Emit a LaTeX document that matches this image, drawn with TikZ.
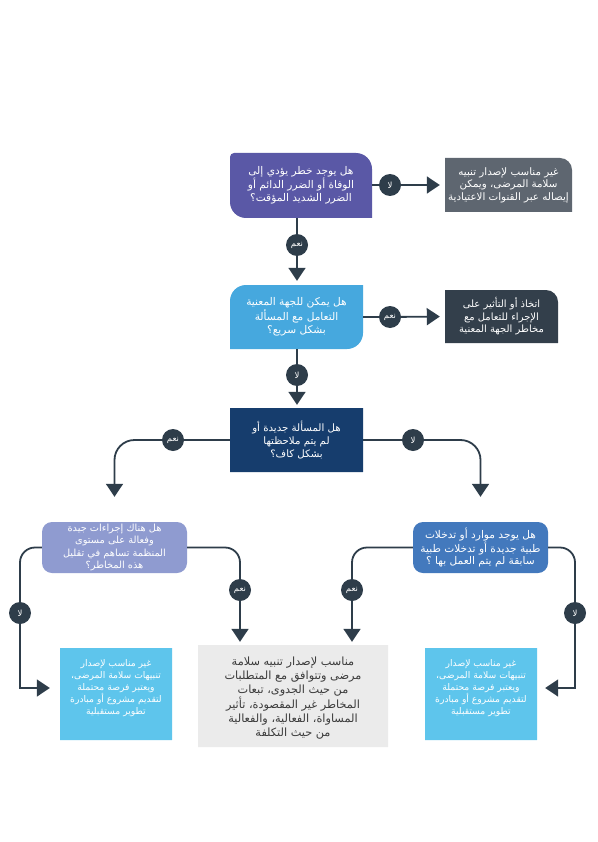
\documentclass[tikz,border=0pt]{standalone}
\usepackage{fontspec}
\usetikzlibrary{arrows.meta,calc}
\newfontfamily\arabicfont[Script=Arabic]{DejaVu Sans}
\TeXXeTstate=1
\newcommand\AR[1]{\beginR #1\endR}
\definecolor{cA}{HTML}{5A58A6}
\definecolor{cB}{HTML}{5E6670}
\definecolor{cC}{HTML}{46A8DE}
\definecolor{cD}{HTML}{333F4B}
\definecolor{cE}{HTML}{163D6D}
\definecolor{cF}{HTML}{8F9BD0}
\definecolor{cG}{HTML}{4379BD}
\definecolor{cH}{HTML}{5EC5EC}
\definecolor{cI}{HTML}{EBEBEB}
\definecolor{cIt}{HTML}{3B3B3B}
\definecolor{cK}{HTML}{2E3D4A}
% colour, x1, y1, x2, y2, rTL, rTR, rBR, rBL
\newcommand\shapebox[9]{%
\fill[#1] ({#2+#6},#3) -- ({#4-#7},#3) arc[start angle=-90,end angle=0,radius=#7]
 -- (#4,{#5-#8}) arc[start angle=0,end angle=90,radius=#8]
 -- ({#2+#9},#5) arc[start angle=90,end angle=180,radius=#9]
 -- (#2,{#3+#6}) arc[start angle=180,end angle=270,radius=#6] -- cycle;}
\tikzset{
 txt/.style={align=center, inner sep=0pt, text=white, font=\arabicfont\fontsize{10.6}{13}\selectfont},
 lab/.style={circle, fill=cK, text=white, minimum size=22pt, inner sep=0pt, font=\arabicfont\fontsize{8.5}{8.5}\selectfont},
 conn/.style={draw=cK, line width=1.8pt},
 arr/.style={conn, -{Triangle[width=17pt,length=13pt]}},
}
\begin{document}
\begin{tikzpicture}[x=1pt,y=-1pt]
\useasboundingbox (0,0) rectangle (597,842);
\fill[white] (0,0) rectangle (597,842);
% box fills
\shapebox{cA}{230}{153}{372}{218}{4}{16}{0.1}{16}
\shapebox{cB}{445}{158}{572}{212}{0.1}{12}{0.1}{0.1}
\shapebox{cC}{230}{285}{363}{349}{16}{0.1}{16}{0.1}
\shapebox{cD}{445}{290}{558}{343}{0.1}{12}{0.1}{0.1}
\shapebox{cE}{230}{408}{363}{472}{0.1}{0.1}{0.1}{0.1}
\shapebox{cF}{42}{522}{187}{573}{10}{10}{10}{10}
\shapebox{cG}{413}{522}{548}{573}{10}{10}{10}{10}
\shapebox{cH}{60}{648}{172}{740}{0.1}{0.1}{0.1}{0.1}
\shapebox{cI}{198}{645}{388}{747}{0.1}{0.1}{0.1}{0.1}
\shapebox{cH}{425}{648}{537}{740}{0.1}{0.1}{0.1}{0.1}
% text nodes
\node[txt, minimum width=142pt, minimum height=65pt] (A) at (301,185.5)
 {\AR{هل يوجد خطر يؤدي إلى}\\\AR{الوفاة أو الضرر الدائم أو}\\\AR{الضرر الشديد المؤقت؟}};
\node[txt, minimum width=127pt, minimum height=54pt, font=\arabicfont\fontsize{10.3}{12.5}\selectfont] (B) at (508.5,185)
 {\AR{غير مناسب لإصدار تنبيه}\\\AR{سلامة المرضى، ويمكن}\\\AR{إيصاله عبر القنوات الاعتيادية}};
\node[txt, minimum width=133pt, minimum height=64pt] (C) at (296.5,317)
 {\AR{هل يمكن للجهة المعنية}\\\AR{التعامل مع المسألة}\\\AR{بشكل سريع؟}};
\node[txt, minimum width=113pt, minimum height=53pt, font=\arabicfont\fontsize{10}{12.5}\selectfont] (D) at (501.5,316.5)
 {\AR{اتخاذ أو التأثير على}\\\AR{الإجراء للتعامل مع}\\\AR{مخاطر الجهة المعنية}};
\node[txt, minimum width=133pt, minimum height=64pt, font=\arabicfont\fontsize{10.2}{13}\selectfont] (E) at (296.5,440)
 {\AR{هل المسألة جديدة أو}\\\AR{لم يتم ملاحظتها}\\\AR{بشكل كاف؟}};
\node[txt, minimum width=145pt, minimum height=51pt, font=\arabicfont\fontsize{9.8}{12.2}\selectfont] (F) at (114.5,547.5)
 {\AR{هل هناك إجراءات جيدة}\\\AR{وفعالة على مستوى}\\\AR{المنظمة تساهم في تقليل}\\\AR{هذه المخاطر؟}};
\node[txt, minimum width=135pt, minimum height=51pt, font=\arabicfont\fontsize{10.6}{12.5}\selectfont] (G) at (480.5,547.5)
 {\AR{هل يوجد موارد أو تدخلات}\\\AR{طبية جديدة أو تدخلات طبية}\\\AR{سابقة لم يتم العمل بها ؟}};
\node[txt, minimum width=112pt, font=\arabicfont\fontsize{9.2}{12}\selectfont] (H) at (116,688)
 {\AR{غير مناسب لإصدار}\\\AR{تنبيهات سلامة المرضى،}\\\AR{ويعتبر فرصة محتملة}\\\AR{لتقديم مشروع أو مبادرة}\\\AR{تطوير مستقبلية}};
\node[txt, minimum width=190pt, minimum height=102pt, text=cIt, font=\arabicfont\fontsize{11.3}{13.7}\selectfont] (I) at (293,698)
 {\AR{مناسب لإصدار تنبيه سلامة}\\\AR{مرضى وتتوافق مع المتطلبات}\\\AR{من حيث الجدوى، تبعات}\\\AR{المخاطر غير المقصودة، تأثير}\\\AR{المساواة، الفعالية، والفعالية}\\\AR{من حيث التكلفة}};
\node[txt, minimum width=112pt, font=\arabicfont\fontsize{9.2}{12}\selectfont] (J) at (481,688)
 {\AR{غير مناسب لإصدار}\\\AR{تنبيهات سلامة المرضى،}\\\AR{ويعتبر فرصة محتملة}\\\AR{لتقديم مشروع أو مبادرة}\\\AR{تطوير مستقبلية}};
% label circles
\node[lab] (no1) at (390,185) {\AR{لا}};
\node[lab] (yes1) at (297,245) {\AR{نعم}};
\node[lab] (yes2) at (390,317) {\AR{نعم}};
\node[lab] (no2) at (297,375) {\AR{لا}};
\node[lab] (yes3) at (173,440) {\AR{نعم}};
\node[lab] (no3) at (413,440) {\AR{لا}};
\node[lab] (no4) at (20,613) {\AR{لا}};
\node[lab] (yes4) at (240,590) {\AR{نعم}};
\node[lab] (yes5) at (352,590) {\AR{نعم}};
\node[lab] (no5) at (575,613) {\AR{لا}};
% connectors
\draw[conn] (A.east |- no1) -- (no1);
\draw[arr, shorten >=5pt] (no1) -- (B.west);
\draw[conn] (A.south -| yes1) -- (yes1);
\draw[arr, shorten >=4pt] (yes1) -- (yes1 |- C.north);
\draw[conn] (C.east |- yes2) -- (yes2);
\draw[arr, shorten >=5pt] (yes2) -- (D.west);
\draw[conn] (C.south -| no2) -- (no2);
\draw[arr, shorten >=3pt] (no2) -- (no2 |- E.north);
\draw[conn] (E.west |- yes3) -- (yes3);
\draw[arr, rounded corners=20pt, shorten >=25pt] (yes3) -- (F.north |- yes3) -- (F.north);
\draw[conn] (E.east |- no3) -- (no3);
\draw[arr, rounded corners=20pt, shorten >=25pt] (no3) -- (G.north |- no3) -- (G.north);
\draw[conn, rounded corners=15pt] (F.east) -- (yes4 |- F.east) -- (yes4);
\draw[arr, shorten >=5pt] (yes4) -- (yes4 |- I.north);
\draw[conn, rounded corners=15pt] (F.west) -- (no4 |- F.west) -- (no4);
\draw[arr, shorten >=10pt] (no4) -- (no4 |- H.west) -- (H.west);
\draw[conn, rounded corners=15pt] (G.west) -- (yes5 |- G.west) -- (yes5);
\draw[arr, shorten >=5pt] (yes5) -- (yes5 |- I.north);
\draw[conn, rounded corners=15pt] (G.east) -- (no5 |- G.east) -- (no5);
\draw[arr, shorten >=8pt] (no5) -- (no5 |- J.east) -- (J.east);
\end{tikzpicture}
\end{document}
